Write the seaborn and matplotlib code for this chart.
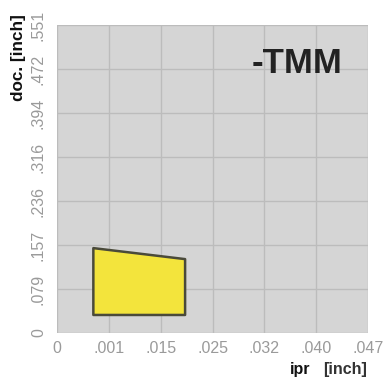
import matplotlib
matplotlib.use("Agg")
import matplotlib.pyplot as plt
import seaborn as sns

x_labels = ["0", ".001", ".015", ".025", ".032", ".040", ".047"]
y_labels = ["0", ".079", ".157", ".236", ".316", ".394", ".472", ".551"]

# region corners (in tick-position units)
region_x = [0.70, 2.47, 2.47, 0.70]
region_y = [0.41, 0.41, 1.68, 1.93]

sns.set_style("whitegrid", {
    "axes.facecolor": "#d5d5d5",
    "grid.color": "#bcbcbc",
    "axes.edgecolor": "#d5d5d5",
})
plt.rcParams["font.family"] = ["Liberation Sans", "DejaVu Sans"]

fig = plt.figure(figsize=(3.83, 3.81), dpi=100)
ax = fig.add_axes([0.149, 0.126, 0.812, 0.808])

ax.fill(region_x, region_y, facecolor="#f3e43c", edgecolor="#4a4a3a",
        linewidth=1.8, joinstyle="round", zorder=3)

ax.set_xlim(0, len(x_labels) - 1)
ax.set_ylim(0, len(y_labels) - 1)
ax.set_xticks(range(len(x_labels)))
ax.set_xticklabels(x_labels)
ax.set_yticks(range(len(y_labels)))
ax.set_yticklabels(y_labels, rotation=90, va="center")
ax.tick_params(axis="x", length=0, colors="#9a9a9a", labelsize=11.5, pad=6)
ax.tick_params(axis="y", length=0, colors="#9a9a9a", labelsize=11.5, pad=8)
ax.grid(True, color="#bcbcbc", linewidth=1.0)
for s in ax.spines.values():
    s.set_visible(False)

ax.text(0.918, 0.875, "-TMM", transform=ax.transAxes, ha="right", va="center",
        fontsize=25, fontweight="bold", color="#222222")

fig.text(0.047, 0.85, "doc. [inch]", rotation=90, ha="center", va="center",
         fontsize=12.3, fontweight="bold", color="#111111")
fig.text(0.757, 0.030, "ipr", ha="left", va="center",
         fontsize=11.5, fontweight="bold", color="#111111")
fig.text(0.843, 0.030, "[inch]", ha="left", va="center",
         fontsize=11.5, fontweight="bold", color="#333333")

fig.savefig("out.png", dpi=100)
